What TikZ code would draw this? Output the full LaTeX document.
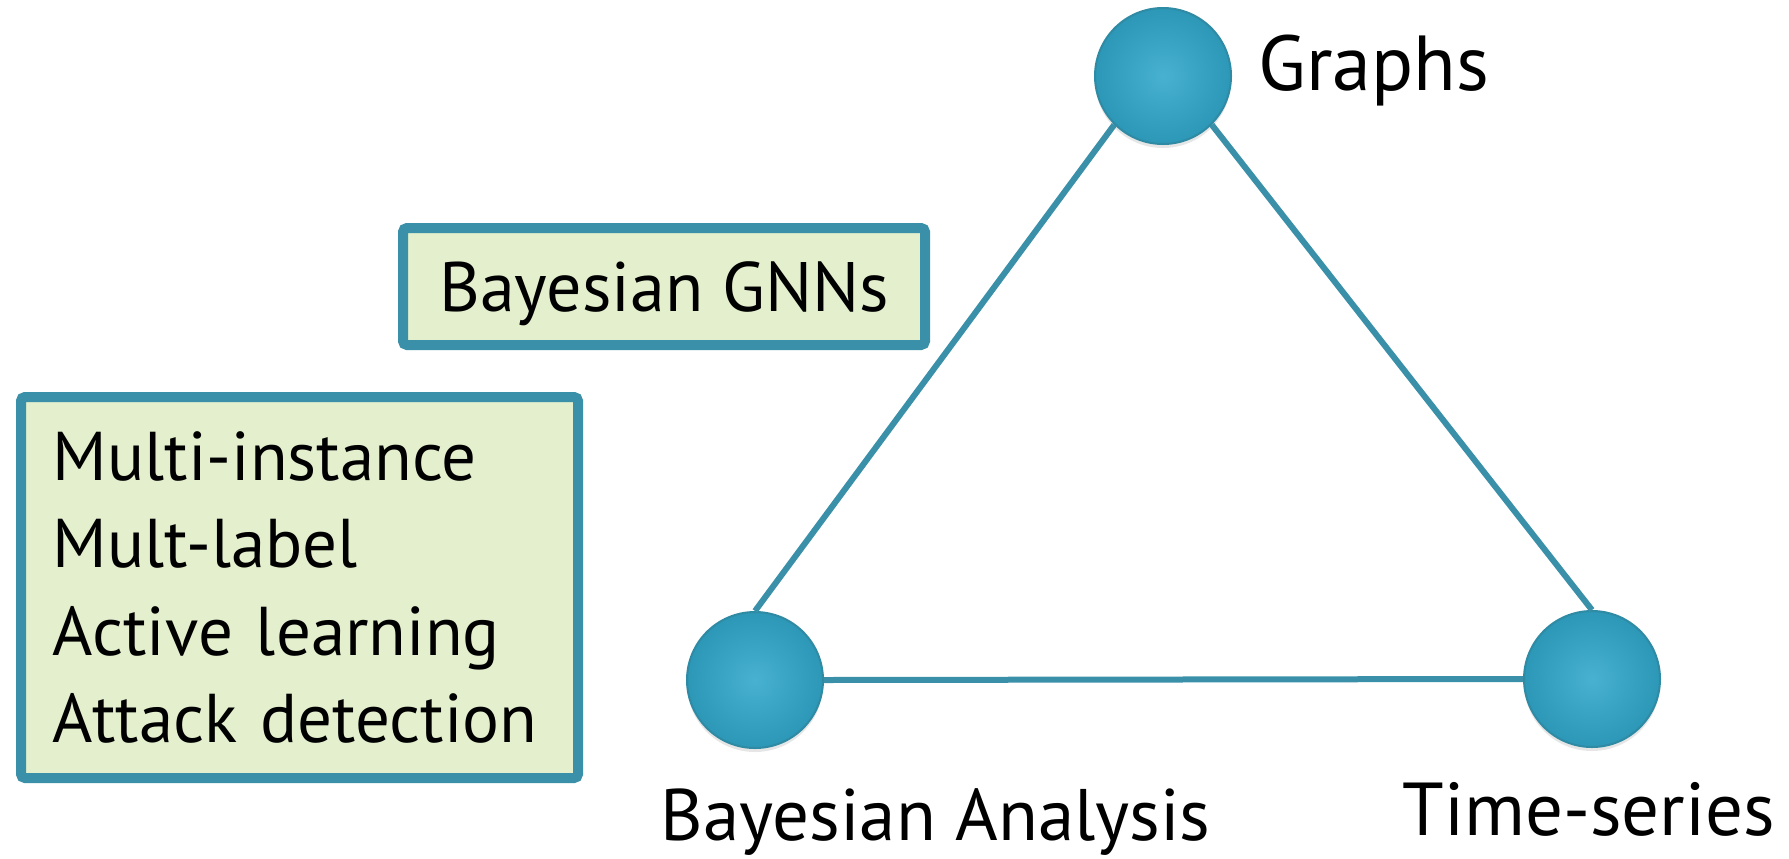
\documentclass[tikz,border=0pt]{standalone}
\usepackage{fontspec}
\setmainfont{PT Sans}
\usetikzlibrary{shadows}
\definecolor{teal}{HTML}{3A90A8}
\definecolor{ballin}{HTML}{48B1D1}
\definecolor{ballout}{HTML}{2C97B7}
\definecolor{ballrim}{HTML}{2F8AA4}
\definecolor{boxfill}{HTML}{E3EFCD}
\tikzset{
  ball/.style = {circle, minimum size=68pt, inner sep=0pt, draw=ballrim, line width=1pt,
    inner color=ballin, outer color=ballout,
    drop shadow={opacity=0.2, shadow xshift=0pt, shadow yshift=-2pt}},
  edge/.style = {draw=teal, line width=3pt},
  topic/.style = {inner sep=0pt, font=\fontsize{#1}{42}\selectfont},
  note/.style = {draw=teal, fill=boxfill, line width=5pt, rounded corners=2pt,
    inner sep=0pt, font=\fontsize{#1}{43.7}\selectfont}
}
\begin{document}
\begin{tikzpicture}[x=0.5pt, y=-0.5pt]
    \useasboundingbox (0,0) rectangle (1789,858);
    \foreach \name/\px/\py in {graphs/1163/76, bayes/755/680, series/1592/679}{
      \node[ball] (\name) at (\px,\py) {};
    }
    \draw[edge] (graphs.225) -- (bayes.north);
    \draw[edge] (graphs.-45) -- (series.north);
    \draw[edge] (bayes.east) -- (series.west);
    \node[topic=39,   anchor=base west] (graphslabel) at (1258,90)  {Graphs};
    \node[topic=36.5, anchor=base west] (bayeslabel)  at (660,840)  {Bayesian Analysis};
    \node[topic=37.5, anchor=base west] (serieslabel) at (1402,835) {Time-series};
    \node[note=35, minimum width=261pt, minimum height=58.5pt, text depth=0pt]
      (gnnbox) at (664,286.5) {Bayesian GNNs};
    \node[note=34.5, minimum width=278.5pt, minimum height=190.5pt, inner xsep=16pt,
      text width=246.5pt, align=left]
      (taskbox) at (299.5,587.5) {Multi-instance\\Mult-label\\Active learning\\Attack detection};
  \end{tikzpicture}
\end{document}
